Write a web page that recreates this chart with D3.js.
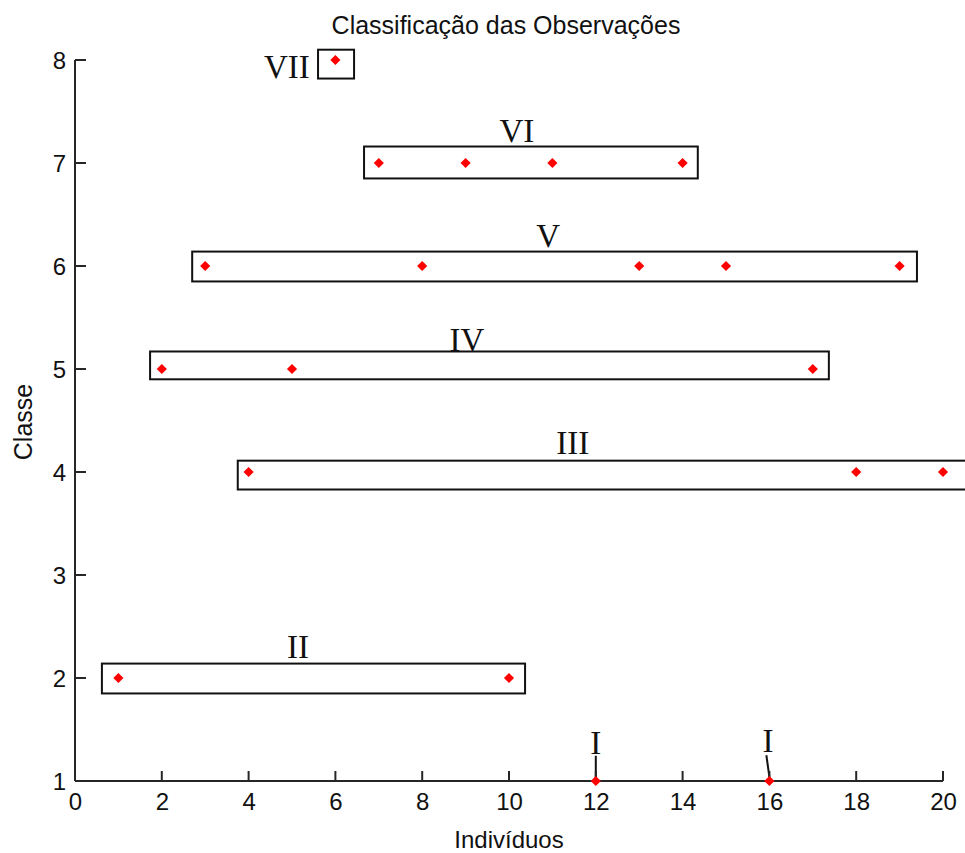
<!DOCTYPE html>
<html>
<head>
<meta charset="utf-8">
<script src="https://cdn.jsdelivr.net/npm/d3@7"></script>
<style>
  html, body { margin: 0; padding: 0; background: #fff; }
  svg { display: block; }
</style>
</head>
<body>
<script>
// ---- data ----
const individuals = [1,2,3,4,5,6,7,8,9,10,11,12,13,14,15,16,17,18,19,20];
const classes     = [2,5,6,4,5,8,7,6,7,2,7,1,6,7,6,1,5,4,6,4];

const xTicks = [0,2,4,6,8,10,12,14,16,18,20];
const yTicks = [1,2,3,4,5,6,7,8];

// group boxes (data units): label, xmin, xmax, ymin, ymax
const boxLabels = ["VII","VI","V","IV","III","II"];
const boxXmin   = [5.60, 6.66, 2.70, 1.73, 3.75, 0.62];
const boxXmax   = [6.43, 14.35, 19.40, 17.37, 20.70, 10.37];
const boxYmin   = [7.82, 6.85, 5.85, 4.90, 3.83, 1.85];
const boxYmax   = [8.10, 7.16, 6.14, 5.17, 4.11, 2.14];

// roman-numeral annotations (data units)
const annLabels = ["VII","VI","V","IV","III","II","I","I"];
const annX      = [4.88, 10.18, 10.90, 9.03, 11.47, 5.14, 12.0, 15.97];
const annY      = [7.83, 7.20, 6.18, 5.17, 4.17, 2.19, 1.26, 1.28];

// annotation stems for class I
const stemX0 = [12.0, 15.93];
const stemY0 = [1.245, 1.25];
const stemX1 = [12.0, 16.0];
const stemY1 = [1.0, 1.04];

const titleText = "Classificação das Observações";
const xLabel = "Indivíduos";
const yLabel = "Classe";

// ---- drawing ----
const W = 965, H = 853;
const svg = d3.select("body").append("svg").attr("width", W).attr("height", H);

const x = d3.scaleLinear().domain([0, 20]).range([75, 943]);
const y = d3.scaleLinear().domain([1, 8]).range([781, 60]);

const sans = "'Liberation Sans', Arial, Helvetica, sans-serif";
const serif = "'Liberation Serif', 'Times New Roman', serif";
const fs = 24;

// boxes
const boxes = boxLabels.map((l, i) => ({l, x0: boxXmin[i], x1: boxXmax[i], y0: boxYmin[i], y1: boxYmax[i]}));
svg.append("g").selectAll("rect").data(boxes).join("rect")
  .attr("x", d => x(d.x0))
  .attr("y", d => y(d.y1))
  .attr("width", d => x(d.x1) - x(d.x0))
  .attr("height", d => y(d.y0) - y(d.y1))
  .attr("fill", "none")
  .attr("stroke", "#111")
  .attr("stroke-width", 2);

// stems
svg.append("g").selectAll("line").data(stemX0.map((v, i) => i)).join("line")
  .attr("x1", i => x(stemX0[i])).attr("y1", i => y(stemY0[i]))
  .attr("x2", i => x(stemX1[i])).attr("y2", i => y(stemY1[i]))
  .attr("stroke", "#111").attr("stroke-width", 2);

// axes
const xAxis = d3.axisBottom(x).tickValues(xTicks).tickSize(0).tickPadding(12).tickFormat(d3.format("d"));
const yAxis = d3.axisLeft(y).tickValues(yTicks).tickSize(0).tickPadding(9).tickFormat(d3.format("d"));

const gx = svg.append("g").attr("transform", `translate(0,${y(1)})`).call(xAxis);
gx.select(".domain").remove();
gx.selectAll("text").attr("font-family", sans).attr("font-size", fs).attr("fill", "#111").attr("dy", "0.71em");

const gy = svg.append("g").attr("transform", `translate(${x(0)},0)`).call(yAxis);
gy.select(".domain").remove();
gy.selectAll("text").attr("font-family", sans).attr("font-size", fs).attr("fill", "#111").attr("dy", "0.36em");

// axis lines and inner ticks
const axG = svg.append("g").attr("stroke", "#262626").attr("stroke-width", 2).attr("fill", "none");
axG.append("line").attr("x1", x(0)).attr("x2", x(20)).attr("y1", y(1)).attr("y2", y(1));
axG.append("line").attr("x1", x(0)).attr("x2", x(0)).attr("y1", y(1)).attr("y2", y(8));
axG.selectAll("line.xt").data(xTicks).join("line").attr("class", "xt")
  .attr("x1", d => x(d)).attr("x2", d => x(d)).attr("y1", y(1)).attr("y2", y(1) - 10);
axG.selectAll("line.yt").data(yTicks).join("line").attr("class", "yt")
  .attr("x1", x(0)).attr("x2", x(0) + 11).attr("y1", d => y(d)).attr("y2", d => y(d));

// points (red diamonds)
const pts = individuals.map((v, i) => ({x: v, c: classes[i]}));
const diamond = d3.symbol().type(d3.symbolDiamond2).size(66);
svg.append("g").selectAll("path").data(pts).join("path")
  .attr("transform", d => `translate(${x(d.x)},${y(d.c)})`)
  .attr("d", diamond)
  .attr("fill", "#ff0000");

// annotations
svg.append("g").selectAll("text").data(annLabels.map((l, i) => ({l, x: annX[i], y: annY[i]}))).join("text")
  .attr("x", d => x(d.x)).attr("y", d => y(d.y))
  .attr("text-anchor", "middle")
  .attr("font-family", serif).attr("font-size", 33).attr("fill", "#111")
  .text(d => d.l);

// title and labels
svg.append("text").attr("x", 506).attr("y", 34).attr("text-anchor", "middle")
  .attr("font-family", sans).attr("font-size", 25).attr("fill", "#111").text(titleText);
svg.append("text").attr("x", (x(0) + x(20)) / 2).attr("y", 848).attr("text-anchor", "middle")
  .attr("font-family", sans).attr("font-size", fs).attr("fill", "#111").text(xLabel);
svg.append("text").attr("transform", "translate(32,422) rotate(-90)").attr("text-anchor", "middle")
  .attr("font-family", sans).attr("font-size", 25).attr("fill", "#111").text(yLabel);
</script>
</body>
</html>
